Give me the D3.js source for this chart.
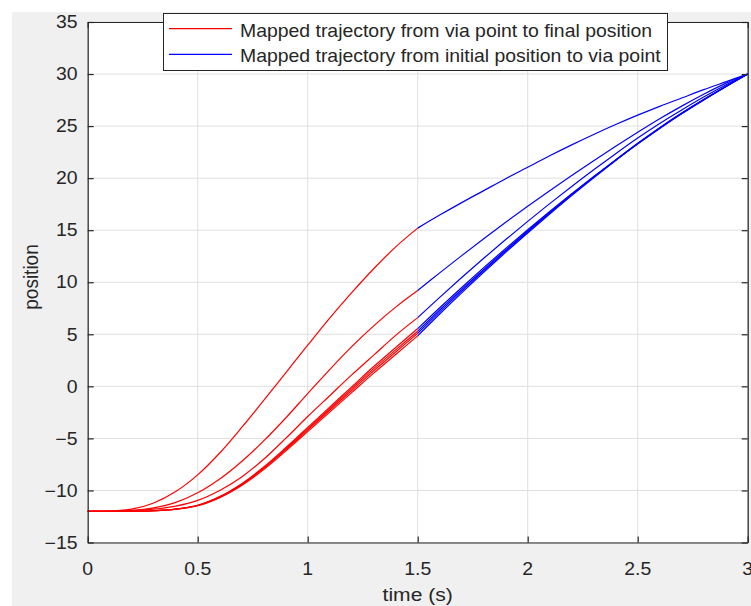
<!DOCTYPE html>
<html><head><meta charset="utf-8">
<script src="https://cdn.jsdelivr.net/npm/d3@7"></script>
<style>
body{margin:0;background:#fff}
svg{display:block}
text{font-family:"Liberation Sans",Arial,Helvetica,sans-serif;fill:#262626}
</style>
</head><body>
<svg id="c" width="751" height="606"></svg>
<script>
// ---- data ----
const tRed  = [0,0.1,0.2,0.3,0.4,0.5,0.6,0.7,0.8,0.9,1.0,1.1,1.2,1.3,1.4,1.5];
const tBlue = [1.5,1.6,1.7,1.8,1.9,2.0,2.1,2.2,2.3,2.4,2.5,2.6,2.7,2.8,2.9,3.0];

const redA  = [-12,-11.98,-11.8,-11.2,-10.1,-8.5,-6.4,-3.95,-1.35,1.3,3.95,6.55,9.0,11.3,13.4,15.2];
const redB  = [-12,-11.99,-11.92,-11.67,-11.15,-10.23,-8.9,-7.22,-5.24,-3.04,-0.69,1.61,3.81,5.81,7.61,9.2];
const redC  = [-12,-12,-11.95,-11.8,-11.5,-10.95,-10.0,-8.7,-7.0,-5.0,-2.9,-0.9,1.1,3.0,4.9,6.6];
const redD1 = [-12,-12,-12,-11.95,-11.8,-11.42,-10.59,-9.35,-7.75,-5.9,-3.95,-2.0,-0.05,1.9,3.73,5.55];
const redD2 = [-12,-12,-12,-11.95,-11.8,-11.44,-10.62,-9.4,-7.83,-6.0,-4.08,-2.15,-0.22,1.7,3.5,5.3];
const redD3 = [-12,-12,-12,-11.95,-11.8,-11.45,-10.65,-9.45,-7.9,-6.1,-4.2,-2.3,-0.4,1.5,3.3,5.1];
const redD4 = [-12,-12,-12,-11.95,-11.8,-11.47,-10.69,-9.52,-8.0,-6.22,-4.35,-2.48,-0.6,1.27,3.06,4.85];

const blueA  = [15.2,16.45,17.65,18.8,19.95,21.05,22.15,23.2,24.2,25.15,26.05,26.9,27.7,28.5,29.25,30];
const blueB  = [9.2,10.9,12.56,14.18,15.76,17.3,18.8,20.26,21.68,23.06,24.4,25.7,26.92,28.06,29.1,30];
const blueC  = [6.6,8.55,10.45,12.3,14.1,15.85,17.55,19.2,20.8,22.35,23.85,25.25,26.55,27.79,28.95,30];
const blueD1 = [5.55,7.55,9.5,11.4,13.25,15.05,16.8,18.5,20.15,21.75,23.3,24.78,26.18,27.5,28.78,30];
const blueD2 = [5.3,7.33,9.3,11.23,13.1,14.93,16.7,18.43,20.1,21.73,23.3,24.8,26.2,27.52,28.78,30];
const blueD3 = [5.1,7.15,9.15,11.1,13.0,14.85,16.65,18.4,20.1,21.75,23.35,24.85,26.25,27.55,28.8,30];
const blueD4 = [4.85,6.95,8.98,10.95,12.87,14.73,16.55,18.32,20.03,21.7,23.3,24.82,26.23,27.55,28.8,30];

const redSeries  = [redA, redB, redC, redD1, redD2, redD3, redD4];
const blueSeries = [blueA, blueB, blueC, blueD1, blueD2, blueD3, blueD4];

const xTicks = [0,0.5,1,1.5,2,2.5,3];
const xTickLabels = ["0","0.5","1","1.5","2","2.5","3"];
const yTicks = [-15,-10,-5,0,5,10,15,20,25,30,35];
const yTickLabels = ["\u221215","\u221210","\u22125","0","5","10","15","20","25","30","35"];
const legendLabels = ["Mapped trajectory from via point to final position",
                      "Mapped trajectory from initial position to via point"];
const legendColors = ["#ff0000","#0000ff"];
const xLabel = "time (s)";
const yLabel = "position";

// ---- layout ----
const W = 751, H = 606;
const L = 87.7, R = 747.7, T = 22, B = 542.5;
const SX = 1.11; // horizontal glyph stretch seen in reference
const axisCol = "#262626";

const svg = d3.select("#c");
svg.append("rect").attr("x",12).attr("y",12).attr("width",W-12).attr("height",H-12).attr("fill","#f0f0f0");
svg.append("rect").attr("x",L).attr("y",T).attr("width",R-L).attr("height",B-T).attr("fill","#fff");

const x = d3.scaleLinear().domain([0,3]).range([L,R]);
const y = d3.scaleLinear().domain([-15,35]).range([B,T]);

// grid
const g = svg.append("g");
g.selectAll("line.gx").data(xTicks).join("line").attr("class","gx")
  .attr("x1",d=>x(d)).attr("x2",d=>x(d)).attr("y1",T).attr("y2",B)
  .attr("stroke","#dfdfdf").attr("stroke-width",1);
g.selectAll("line.gy").data(yTicks).join("line").attr("class","gy")
  .attr("x1",L).attr("x2",R).attr("y1",d=>y(d)).attr("y2",d=>y(d))
  .attr("stroke","#dfdfdf").attr("stroke-width",1);

// curves
const lineR = d3.line().x((d,i)=>x(tRed[i])).y(d=>y(d)).curve(d3.curveCatmullRom.alpha(0.5));
const lineB = d3.line().x((d,i)=>x(tBlue[i])).y(d=>y(d)).curve(d3.curveCatmullRom.alpha(0.5));
const plot = svg.append("g");
plot.selectAll("path.r").data(redSeries).join("path").attr("class","r")
  .attr("d",lineR).attr("fill","none").attr("stroke","#ff0000").attr("stroke-width",1.2);
plot.selectAll("path.b").data(blueSeries).join("path").attr("class","b")
  .attr("d",lineB).attr("fill","none").attr("stroke","#0000ff").attr("stroke-width",1.2);

// axes (box with inward ticks)
const ax = svg.append("g");
const tickLen = 6;
const axB = d3.axisBottom(x).tickValues(xTicks).tickFormat("").tickSizeInner(-tickLen).tickSizeOuter(0);
const axT = d3.axisTop(x).tickValues(xTicks).tickFormat("").tickSizeInner(-tickLen).tickSizeOuter(0);
const axL = d3.axisLeft(y).tickValues(yTicks).tickFormat("").tickSizeInner(-tickLen).tickSizeOuter(0);
const axR = d3.axisRight(y).tickValues(yTicks).tickFormat("").tickSizeInner(-tickLen).tickSizeOuter(0);
[[axB,`translate(0,${B})`],[axT,`translate(0,${T})`],[axL,`translate(${L},0)`],[axR,`translate(${R},0)`]].forEach(([a,tr])=>{
  const gg = ax.append("g").attr("transform",tr).call(a);
  gg.selectAll("path,line").attr("stroke",axisCol).attr("stroke-width",1.2);
});

// text helper with horizontal stretch
function txt(parent, str, px, py, size, anchor, rot){
  const gg = parent.append("g").attr("transform",`translate(${px},${py}) scale(${SX},1)` + (rot?` rotate(${rot})`:""));
  gg.append("text").attr("x",0).attr("y",0).attr("font-size",size).attr("text-anchor",anchor).text(str);
  return gg;
}
const lab = svg.append("g");
xTicks.forEach((v,i)=>txt(lab, xTickLabels[i], x(v), 575, 17.5, "middle"));
yTicks.forEach((v,i)=>txt(lab, yTickLabels[i], 77.5, y(v)+6.2, 17.5, "end"));
txt(lab, xLabel, (L+R)/2, 601, 19, "middle");
txt(lab, yLabel, 37.5, 277, 19, "middle", -90);

// legend
const lg = svg.append("g");
lg.append("rect").attr("x",163.5).attr("y",13.5).attr("width",504).attr("height",57)
  .attr("fill","#fff").attr("stroke",axisCol).attr("stroke-width",1);
legendLabels.forEach((s,i)=>{
  const yy = 28.7 + i*25.7;
  lg.append("line").attr("x1",169).attr("x2",232).attr("y1",yy).attr("y2",yy)
    .attr("stroke",legendColors[i]).attr("stroke-width",1.2);
  txt(lg, s, 240, yy+8, 17.5, "start");
});
</script>
</body></html>
